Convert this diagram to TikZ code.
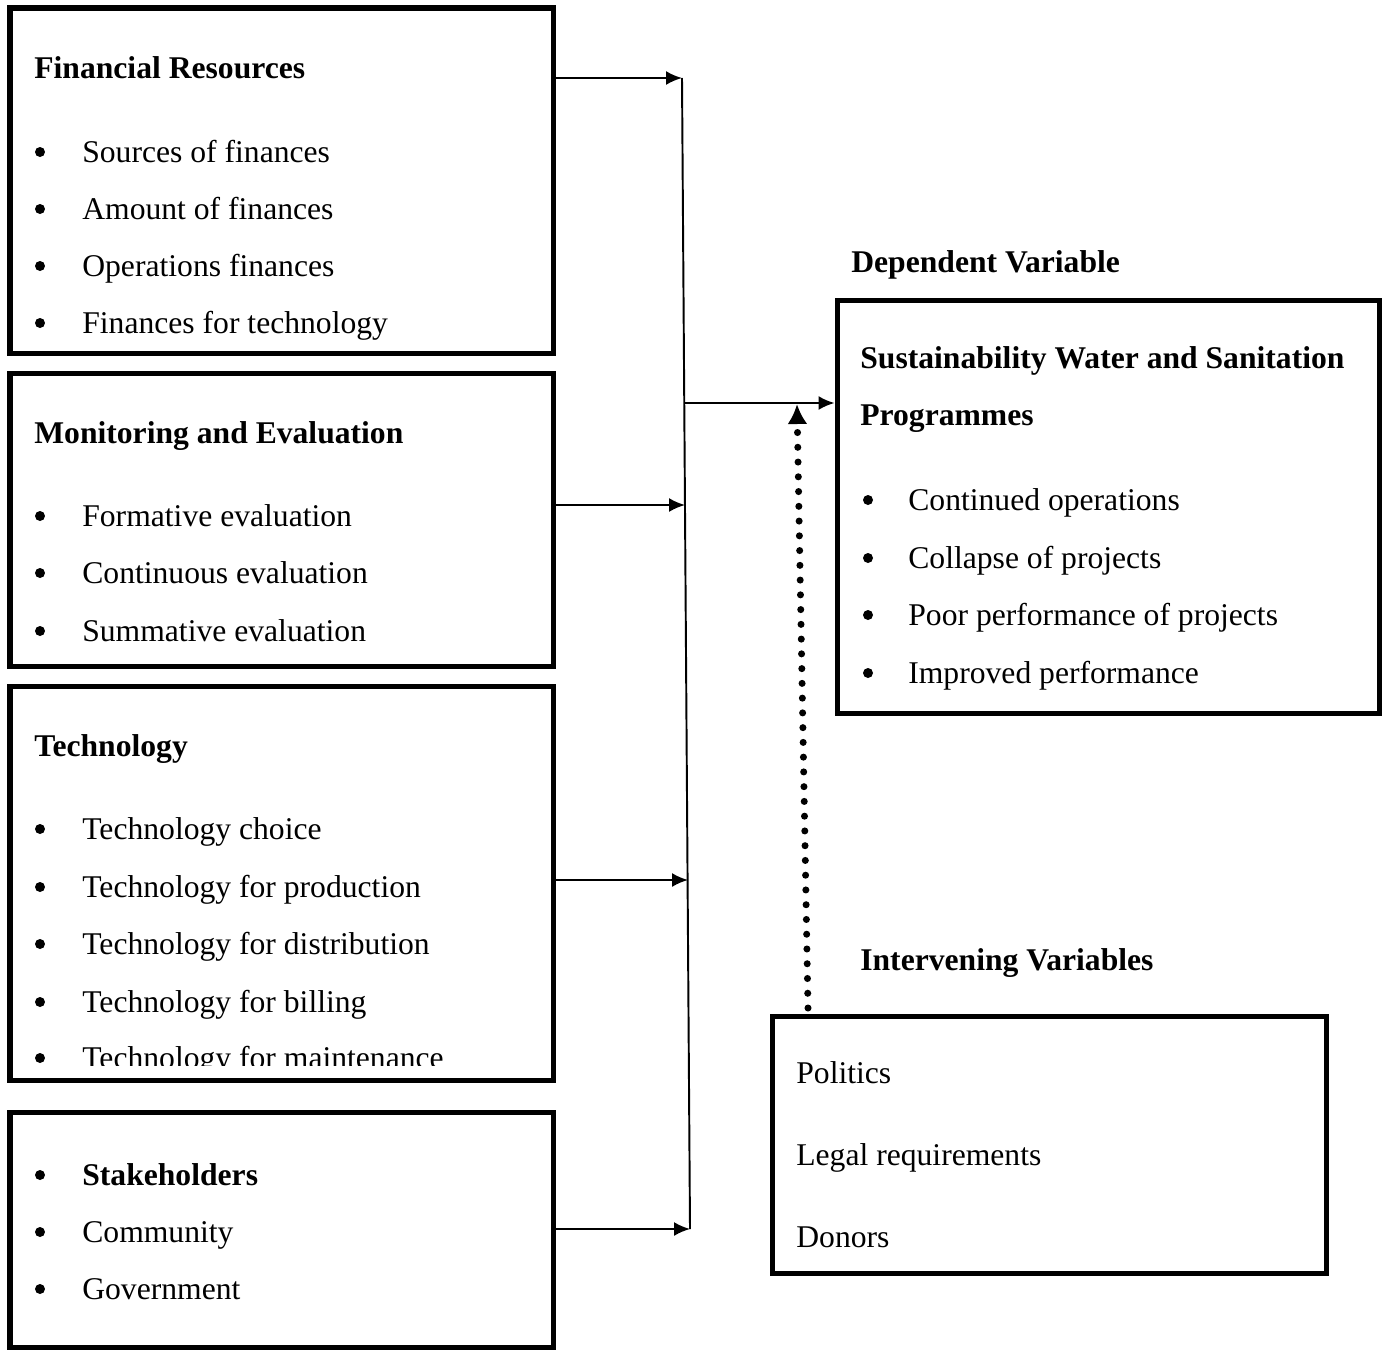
\documentclass[tikz,border=0pt]{standalone}
\usepackage{fontspec}
\setmainfont{Liberation Serif}
\usetikzlibrary{arrows.meta,fit}

\tikzset{
  box/.style={draw, line width=2.85pt, inner sep=0pt},
  link/.style={line width=1.1pt, -{Latex[length=0.32cm,width=0.28cm]}},
  item/.style={inner sep=0pt, anchor=base west},
  dot/.style={circle, fill, inner sep=0pt, minimum size=0.2cm},
  head/.style={inner sep=0pt, anchor=base west, font=\bfseries},
}

\begin{document}
\fontsize{18}{22}\selectfont
\begin{tikzpicture}[x=0.02cm, y=-0.02cm]
    \useasboundingbox (0,0) rectangle (1386,1349);
    % Kaesten links
    \node[box, fit={(10,8) (553,353)}] (fin) {};
    \node[box, fit={(10,373) (553,666)}] (mne) {};
    \node[box, fit={(10,686) (553,1080)}] (tech) {};
    \node[box, fit={(10,1112) (553,1347)}] (stake) {};
    % Kaesten rechts
    \node[box, fit={(837,300) (1379,713)}] (dep) {};
    \node[box, fit={(772,1016) (1326,1273)}] (inter) {};

    % Financial Resources
    \node[head] (finHead) at (34,78) {Financial Resources};
    \node[dot] (finB1) at (40,152) {};
    \node[item] (finI1) at (82,162) {Sources of finances};
    \node[dot] (finB2) at (40,209) {};
    \node[item] (finI2) at (82,219) {Amount of finances};
    \node[dot] (finB3) at (40,266) {};
    \node[item] (finI3) at (82,276) {Operations finances};
    \node[dot] (finB4) at (40,323) {};
    \node[item] (finI4) at (82,333) {Finances for technology};

    % Monitoring and Evaluation
    \node[head] (mneHead) at (34,443) {Monitoring and Evaluation};
    \node[dot] (mneB1) at (40,516) {};
    \node[item] (mneI1) at (82,526) {Formative evaluation};
    \node[dot] (mneB2) at (40,573) {};
    \node[item] (mneI2) at (82,583) {Continuous evaluation};
    \node[dot] (mneB3) at (40,631) {};
    \node[item] (mneI3) at (82,641) {Summative evaluation};

    % Technology
    \node[head] (techHead) at (34,756) {Technology};
    \node[dot] (techB1) at (40,829) {};
    \node[item] (techI1) at (82,839) {Technology choice};
    \node[dot] (techB2) at (40,887) {};
    \node[item] (techI2) at (82,897) {Technology for production};
    \node[dot] (techB3) at (40,944) {};
    \node[item] (techI3) at (82,954) {Technology for distribution};
    \node[dot] (techB4) at (40,1002) {};
    \node[item] (techI4) at (82,1012) {Technology for billing};
    \begin{scope}
      \clip (0,1030) rectangle (553,1065);
      \node[dot] (techB5) at (40,1058) {};
      \node[item] (techI5) at (82,1068) {Technology for maintenance};
    \end{scope}

    % Stakeholders
    \node[dot] (stakeB1) at (40,1175) {};
    \node[head] (stakeHead) at (82,1185) {Stakeholders};
    \node[dot] (stakeB2) at (40,1232) {};
    \node[item] (stakeI1) at (82,1242) {Community};
    \node[dot] (stakeB3) at (40,1289) {};
    \node[item] (stakeI2) at (82,1299) {Government};

    % Dependent Variable
    \node[head] (depLabel) at (851,272) {Dependent Variable};
    \node[head] (depHead) at (860,368) {Sustainability Water and Sanitation};
    \node[head] (depHead2) at (860,425) {Programmes};
    \node[dot] (depB1) at (868,500) {};
    \node[item] (depI1) at (908,510) {Continued operations};
    \node[dot] (depB2) at (868,558) {};
    \node[item] (depI2) at (908,568) {Collapse of projects};
    \node[dot] (depB3) at (868,615) {};
    \node[item] (depI3) at (908,625) {Poor performance of projects};
    \node[dot] (depB4) at (868,673) {};
    \node[item] (depI4) at (908,683) {Improved performance};

    % Intervening Variables
    \node[head] (interLabel) at (860,970) {Intervening Variables};
    \node[item] (interI1) at (796,1083) {Politics};
    \node[item] (interI2) at (796,1165) {Legal requirements};
    \node[item] (interI3) at (796,1247) {Donors};

    % Sammelleitung
    \coordinate (finIn) at (682,78);
    \coordinate (mneIn) at (685,505);
    \coordinate (techIn) at (688,880);
    \coordinate (stakeIn) at (690,1229);
    \coordinate (depOut) at (685,403);
    \draw[line width=1.1pt] (finIn) -- (stakeIn);
    \draw[link] (finIn -| fin.east) -- (finIn);
    \draw[link] (mneIn -| mne.east) -- (mneIn);
    \draw[link] (techIn -| tech.east) -- (techIn);
    \draw[link] (stakeIn -| stake.east) -- (stakeIn);
    \draw[link] (depOut) -- (depOut -| dep.west);

    % gepunkteter Pfeil
    \coordinate (dotFoot) at (808,1008);
    \coordinate (dotTip) at (797,404);
    \draw[line width=4pt, line cap=round, dash pattern=on 0pt off 8.4pt,
          -{Latex[length=0.4cm,width=0.4cm]}] (dotFoot) -- (dotTip);
\end{tikzpicture}
\end{document}
